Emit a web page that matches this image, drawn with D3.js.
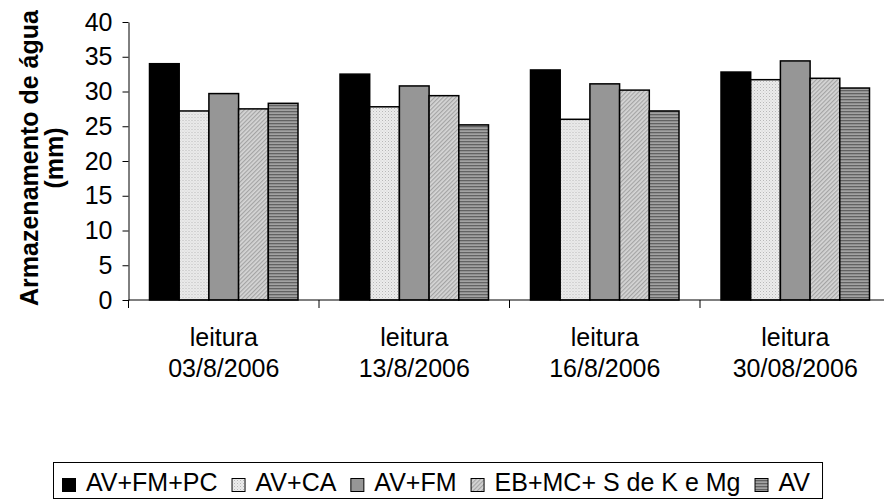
<!DOCTYPE html>
<html>
<head>
<meta charset="utf-8">
<script src="https://cdn.jsdelivr.net/npm/d3@7"></script>
<style>
  html, body { margin: 0; padding: 0; background: #fff; }
  svg { display: block; font-family: Arial, "Liberation Sans", sans-serif; }
</style>
</head>
<body>
<svg id="chart"></svg>
<script>
// ---- data ----
const categoryTop = ["leitura", "leitura", "leitura", "leitura"];
const categoryDates = ["03/8/2006", "13/8/2006", "16/8/2006", "30/08/2006"];
const seriesNames = ["AV+FM+PC", "AV+CA", "AV+FM", "EB+MC+ S de K e Mg", "AV"];
const avFmPc = [34.0, 32.5, 33.1, 32.8];
const avCa = [27.2, 27.8, 26.0, 31.7];
const avFm = [29.7, 30.8, 31.1, 34.4];
const ebMc = [27.5, 29.4, 30.2, 31.9];
const av = [28.3, 25.2, 27.2, 30.5];
const yTicks = [0, 5, 10, 15, 20, 25, 30, 35, 40];

const seriesValues = [avFmPc, avCa, avFm, ebMc, av];

// ---- svg ----
const width = 884, height = 501;
const svg = d3.select("#chart").attr("width", width).attr("height", height);

// patterns
const defs = svg.append("defs");

// dotted light
const p1 = defs.append("pattern").attr("id", "pat-dots")
  .attr("patternUnits", "userSpaceOnUse").attr("width", 3).attr("height", 3);
p1.append("rect").attr("width", 3).attr("height", 3).attr("fill", "#ececec");
p1.append("rect").attr("x", 0).attr("y", 0).attr("width", 1).attr("height", 1).attr("fill", "#b8b8b8");
p1.append("rect").attr("x", 1.5).attr("y", 1.5).attr("width", 1).attr("height", 1).attr("fill", "#cfcfcf");

// diagonal hatch
const p2 = defs.append("pattern").attr("id", "pat-diag")
  .attr("patternUnits", "userSpaceOnUse").attr("width", 3).attr("height", 3)
  .attr("patternTransform", "rotate(45)");
p2.append("rect").attr("width", 3).attr("height", 3).attr("fill", "#d6d6d6");
p2.append("rect").attr("width", 1.2).attr("height", 3).attr("fill", "#a4a4a4");

// horizontal stripes
const p3 = defs.append("pattern").attr("id", "pat-horiz")
  .attr("patternUnits", "userSpaceOnUse").attr("width", 4).attr("height", 3);
p3.append("rect").attr("width", 4).attr("height", 3).attr("fill", "#a2a2a2");
p3.append("rect").attr("y", 0).attr("width", 4).attr("height", 1.3).attr("fill", "#626262");

const fills = ["#000000", "url(#pat-dots)", "#969696", "url(#pat-diag)", "url(#pat-horiz)"];

// ---- scales ----
const plotLeft = 128.5, plotRight = 890.5, plotTop = 22, plotBottom = 300;

const x0 = d3.scaleBand()
  .domain(d3.range(categoryDates.length))
  .range([plotLeft, plotRight])
  .padding(0);

const x1 = d3.scaleBand()
  .domain(d3.range(seriesNames.length))
  .range([21, x0.bandwidth() - 21])
  .padding(0);

const y = d3.scaleLinear().domain([0, 40]).range([plotBottom, plotTop]);

// ---- bars ----
const groups = svg.append("g").selectAll("g")
  .data(d3.range(categoryDates.length))
  .join("g")
  .attr("transform", i => `translate(${x0(i)},0)`);

groups.selectAll("rect")
  .data(i => seriesValues.map((vals, s) => ({ s, v: vals[i] })))
  .join("rect")
  .attr("x", d => x1(d.s))
  .attr("y", d => y(d.v))
  .attr("width", x1.bandwidth())
  .attr("height", d => y(0) - y(d.v))
  .attr("fill", d => fills[d.s])
  .attr("stroke", "#000")
  .attr("stroke-width", 1.5);

// ---- y axis ----
const yAxis = svg.append("g")
  .attr("transform", `translate(${plotLeft},0)`)
  .call(d3.axisLeft(y).tickValues(yTicks).tickSize(6).tickSizeOuter(0).tickPadding(10));
yAxis.selectAll("text").attr("font-size", 25).attr("font-family", "Arial, 'Liberation Sans', sans-serif").attr("fill", "#000");
yAxis.selectAll("line, path").attr("stroke", "#000");

// ---- x axis ----
svg.append("line")
  .attr("x1", plotLeft).attr("x2", width)
  .attr("y1", plotBottom).attr("y2", plotBottom)
  .attr("stroke", "#000");

svg.append("g").selectAll("line")
  .data(d3.range(categoryDates.length))
  .join("line")
  .attr("x1", i => x0(i)).attr("x2", i => x0(i))
  .attr("y1", plotBottom).attr("y2", plotBottom + 8)
  .attr("stroke", "#000");

const catLabels = svg.append("g").selectAll("text")
  .data(d3.range(categoryDates.length))
  .join("text")
  .attr("text-anchor", "middle")
  .attr("font-size", 25)
  .attr("x", i => x0(i) + x0.bandwidth() / 2);
catLabels.append("tspan").attr("x", i => x0(i) + x0.bandwidth() / 2).attr("y", 346).text(i => categoryTop[i]);
catLabels.append("tspan").attr("x", i => x0(i) + x0.bandwidth() / 2).attr("y", 377).text(i => categoryDates[i]);

// ---- y title ----
const yTitle = svg.append("text")
  .attr("transform", "translate(38,158) rotate(-90)")
  .attr("text-anchor", "middle")
  .attr("font-size", 25)
  .attr("font-weight", "bold");
yTitle.append("tspan").attr("x", 0).attr("y", 0).text("Armazenamento de água");
yTitle.append("tspan").attr("x", 0).attr("y", 25).text("(mm)");

// ---- legend ----
const legendLeft = 53, legendTop = 462, legendBottom = 498;
const legendBox = svg.append("rect")
  .attr("x", legendLeft + 0.5).attr("y", legendTop + 0.5)
  .attr("height", legendBottom - legendTop)
  .attr("fill", "#fff").attr("stroke", "#000");

const legend = svg.append("g");
let cx = legendLeft + 9;
seriesNames.forEach((name, s) => {
  legend.append("rect")
    .attr("x", cx + 0.5).attr("y", 478.5)
    .attr("width", 13).attr("height", 13)
    .attr("fill", fills[s]).attr("stroke", "#000").attr("stroke-width", 1);
  const t = legend.append("text")
    .attr("x", cx + 24).attr("y", 491)
    .attr("font-size", 25)
    .text(name);
  cx = cx + 24 + t.node().getComputedTextLength() + 14;
});
legendBox.attr("width", cx - 14 + 12 - legendLeft);
</script>
</body>
</html>
